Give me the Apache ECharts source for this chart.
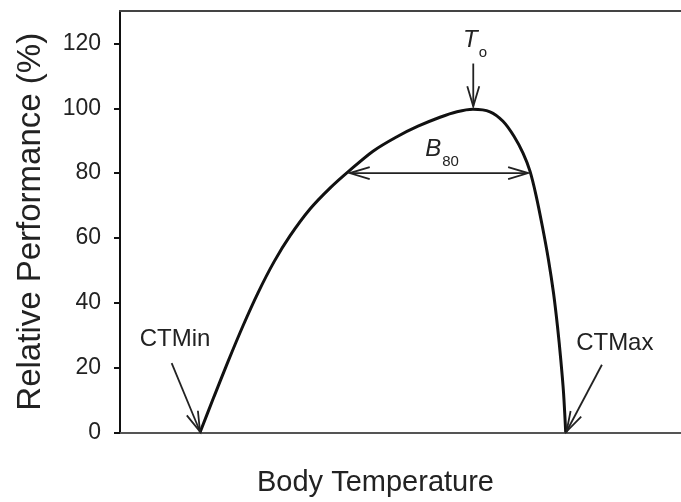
<!DOCTYPE html>
<html><head><meta charset="utf-8">
<script src="https://cdn.jsdelivr.net/npm/echarts@6/dist/echarts.min.js"></script>
<style>html,body{margin:0;padding:0;background:#fff}#c{width:681px;height:502px}</style>
</head><body><div id="c"></div>
<script>
// Curve: body temperature (arbitrary units 0-100) vs relative performance (%)
const temperature = [14.26, 16.76, 19.25, 21.93, 24.60, 27.45, 30.30, 33.87, 37.43, 41.00, 45.10, 49.20, 53.12, 57.04, 60.07, 62.92, 65.95, 68.27, 70.23, 71.84, 73.08, 74.15, 75.31, 76.38, 77.27, 77.99, 78.57, 79.06, 79.45];
const performance = [0, 11.08, 21.85, 32.92, 43.08, 52.62, 60.62, 68.92, 75.38, 80.92, 86.77, 91.08, 94.46, 97.23, 98.92, 99.69, 98.92, 96.0, 91.38, 86.15, 80.6, 73.23, 63.38, 53.23, 43.08, 32.62, 22.46, 12.31, 0];
const yTicks = [0, 20, 40, 60, 80, 100, 120];
// Annotation arrows: [fromX, fromY, toX, toY, doubleHeaded]
const arrows = [
  [62.97, 113.8, 62.97, 100.6, 0],   // To
  [40.95, 80, 72.75, 80, 1],         // B80
  [9.21, 21.4, 14.26, 0.3, 0],       // CTMin
  [85.9, 20.9, 79.6, 0.3, 0]         // CTMax
];
// Annotation labels: [x, y, text]
const labels = [
  [63.3, 119.6, '{t|T}{s|o}'],
  [57.4, 86.0, '{t|B}{s|80}'],
  [9.8, 28.6, 'CTMin'],
  [88.2, 27.6, 'CTMax']
];

const FONT = "'Liberation Sans', Arial, sans-serif";
const TXT = '#222';
const chart = echarts.init(document.getElementById('c'), null, {renderer: 'canvas'});

function head(tip, from, L, W) {
  const dx = tip[0] - from[0], dy = tip[1] - from[1];
  const d = Math.hypot(dx, dy) || 1;
  const ux = dx / d, uy = dy / d, nx = -uy, ny = ux;
  return [[tip[0] - L * ux + W * nx, tip[1] - L * uy + W * ny], tip,
          [tip[0] - L * ux - W * nx, tip[1] - L * uy - W * ny]];
}

chart.setOption({
  animation: false,
  backgroundColor: '#fff',
  grid: {left: 120, right: 0, top: 11, bottom: 69, containLabel: false},
  xAxis: [{
    type: 'value', min: 0, max: 100, position: 'bottom',
    name: 'Body Temperature', nameLocation: 'middle', nameGap: 50,
    nameTextStyle: {fontFamily: FONT, fontSize: 29, color: TXT, verticalAlign: 'middle', padding: [0, 50, 0, 0]},
    axisLine: {show: true, onZero: false, lineStyle: {color: '#555', width: 2}},
    axisTick: {show: false}, axisLabel: {show: false}, splitLine: {show: false}
  }, {
    type: 'value', min: 0, max: 100, position: 'top',
    axisLine: {show: true, onZero: false, lineStyle: {color: '#444', width: 2}},
    axisTick: {show: false}, axisLabel: {show: false}, splitLine: {show: false}
  }],
  yAxis: {
    type: 'value', min: 0, max: 130, interval: 20,
    name: 'Relative Performance (%)', nameLocation: 'middle', nameGap: 89,
    nameTextStyle: {fontFamily: FONT, fontSize: 33, color: TXT, verticalAlign: 'middle'},
    axisLine: {show: true, lineStyle: {color: '#111', width: 2}},
    axisTick: {show: true, length: 6, customValues: yTicks, lineStyle: {color: '#111', width: 2}},
    axisLabel: {customValues: yTicks, margin: 19, fontFamily: FONT, fontSize: 23, color: TXT},
    splitLine: {show: false}
  },
  series: [{
    type: 'line', xAxisIndex: 0,
    data: temperature.map((t, i) => [t, performance[i]]),
    smooth: 0.3, showSymbol: false, symbol: 'none',
    lineStyle: {color: '#111', width: 3}, z: 3
  }, {
    type: 'custom', xAxisIndex: 0,
    data: arrows,
    renderItem: function (params, api) {
      const p1 = api.coord([api.value(0), api.value(1)]);
      const p2 = api.coord([api.value(2), api.value(3)]);
      const dbl = api.value(4);
      const st = {stroke: '#222', lineWidth: 1.8, fill: null};
      const children = [
        {type: 'polyline', shape: {points: [p1, p2]}, style: st},
        {type: 'polyline', shape: {points: head(p2, p1, 20, 6)}, style: st}
      ];
      if (dbl) children.push({type: 'polyline', shape: {points: head(p1, p2, 20, 6)}, style: st});
      return {type: 'group', children: children};
    },
    z: 4
  }, {
    type: 'custom', xAxisIndex: 0,
    data: labels,
    renderItem: function (params, api) {
      const item = labels[params.dataIndex];
      const p = api.coord([item[0], item[1]]);
      return {
        type: 'text', x: p[0], y: p[1],
        style: {
          text: item[2], fill: TXT, fontFamily: FONT, fontSize: 24,
          align: 'center', verticalAlign: 'middle',
          rich: {
            t: {fontFamily: FONT, fontSize: 24, fontStyle: 'italic', fill: TXT, padding: [0, 0, 8, 0]},
            s: {fontFamily: FONT, fontSize: 15, fill: TXT, verticalAlign: 'bottom', padding: [0, 0, 0, 1]}
          }
        }
      };
    },
    z: 5
  }]
});
</script>
</body></html>
